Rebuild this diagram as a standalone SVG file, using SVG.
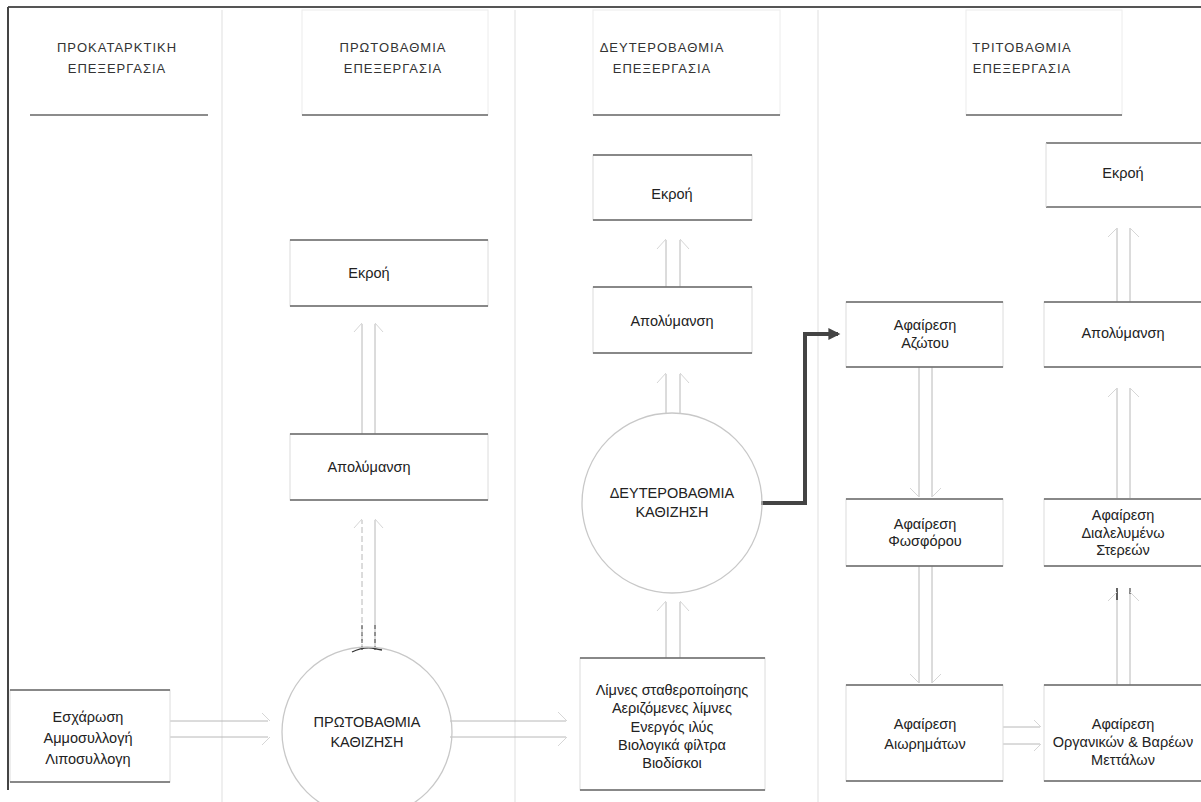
<svg xmlns="http://www.w3.org/2000/svg" width="1201" height="802" viewBox="0 0 1201 802">
<defs>
<marker id="solid" viewBox="0 0 10 10" refX="8" refY="5" markerWidth="14" markerHeight="12" orient="auto" markerUnits="userSpaceOnUse">
<path d="M0,0 L10,5 L0,10 Z" fill="#444"/>
</marker>
<style>
text{font-family:"Liberation Sans",Arial,sans-serif;fill:#222;text-anchor:middle}
.hd{font-size:13px;letter-spacing:1px;fill:#333}
.lb{font-size:14.5px}
.side{fill:none;stroke:#dcdcdc;stroke-width:1}
.hside{fill:none;stroke:#ececec;stroke-width:1}
.tb{stroke:#666;stroke-width:1.5}
.div{stroke:#e4e4e4;stroke-width:1.2}
.dl{stroke:#b8b8b8;stroke-width:1;fill:none}
.ch{stroke:#d6d6d6;stroke-width:1;fill:none}
.circ{fill:none;stroke:#c8c8c8;stroke-width:1.3}
.thick{stroke:#444;stroke-width:4;fill:none}
</style>
</defs>
<rect width="1201" height="802" fill="#fff"/>
<g id="frame">
<line x1="8" y1="7" x2="1201" y2="7" stroke="#555" stroke-width="2"/>
<line x1="8" y1="7" x2="8" y2="790" stroke="#444" stroke-width="2"/>
<line class="div" x1="222" y1="10" x2="222" y2="802"/>
<line class="div" x1="515" y1="10" x2="515" y2="802"/>
<line class="div" x1="818" y1="10" x2="818" y2="802"/>
</g>
<g id="header1">
<line class="tb" x1="30" y1="115" x2="208" y2="115"/>
<text class="hd" x="117" y="52">ΠΡΟΚΑΤΑΡΚΤΙΚΗ</text>
<text class="hd" x="117" y="73">ΕΠΕΞΕΡΓΑΣΙΑ</text>
</g>
<g id="header2">
<rect class="hside" x="302" y="10" width="186" height="105"/>
<line class="tb" x1="302" y1="115" x2="488" y2="115"/>
<text class="hd" x="393" y="52">ΠΡΩΤΟΒΑΘΜΙΑ</text>
<text class="hd" x="393" y="73">ΕΠΕΞΕΡΓΑΣΙΑ</text>
</g>
<g id="header3">
<rect class="hside" x="593" y="10" width="187" height="105"/>
<line class="tb" x1="593" y1="115" x2="780" y2="115"/>
<text class="hd" x="662" y="52">ΔΕΥΤΕΡΟΒΑΘΜΙΑ</text>
<text class="hd" x="662" y="73">ΕΠΕΞΕΡΓΑΣΙΑ</text>
</g>
<g id="header4">
<rect class="hside" x="966" y="10" width="156" height="105"/>
<line class="tb" x1="966" y1="115" x2="1122" y2="115"/>
<text class="hd" x="1022" y="52">ΤΡΙΤΟΒΑΘΜΙΑ</text>
<text class="hd" x="1022" y="73">ΕΠΕΞΕΡΓΑΣΙΑ</text>
</g>
<g id="connectors">
<line class="dl" x1="170" y1="721" x2="268" y2="721"/>
<line class="dl" x1="170" y1="737" x2="268" y2="737"/>
<path class="ch" d="M262,713 L270,721 M262,745 L270,737"/>
<line class="dl" x1="450" y1="721" x2="566" y2="721"/>
<line class="dl" x1="450" y1="737" x2="566" y2="737"/>
<path class="ch" d="M558,712 L567,721 M558,746 L567,737"/>
<line class="dl" x1="362" y1="650" x2="362" y2="520" stroke-dasharray="6,3"/>
<line class="dl" x1="375" y1="650" x2="375" y2="520"/>
<path class="ch" d="M354,528 L362,519 M383,528 L375,519"/>
<path d="M352,652 Q362,647 372,648 L382,650" fill="none" stroke="#333" stroke-width="1.3"/>
<line x1="362" y1="625" x2="362" y2="650" stroke="#444" stroke-width="1" stroke-dasharray="4,3"/>
<line x1="375" y1="625" x2="375" y2="650" stroke="#444" stroke-width="1" stroke-dasharray="4,3"/>
<line class="dl" x1="362" y1="434" x2="362" y2="324"/>
<line class="dl" x1="375" y1="434" x2="375" y2="324"/>
<path class="ch" d="M354,332 L362,323 M383,332 L375,323"/>
<line class="dl" x1="666" y1="658" x2="666" y2="602"/>
<line class="dl" x1="680" y1="658" x2="680" y2="602"/>
<path class="ch" d="M657,611 L666,601 M689,611 L680,601"/>
<line class="dl" x1="666" y1="413" x2="666" y2="374"/>
<line class="dl" x1="680" y1="413" x2="680" y2="374"/>
<path class="ch" d="M657,383 L666,373 M689,383 L680,373"/>
<line class="dl" x1="666" y1="287" x2="666" y2="240"/>
<line class="dl" x1="680" y1="287" x2="680" y2="240"/>
<path class="ch" d="M657,249 L666,239 M689,249 L680,239"/>
<path class="thick" d="M761,503 L805,503 L805,334 L838,334" marker-end="url(#solid)"/>
<line class="dl" x1="919" y1="367" x2="919" y2="497"/>
<line class="dl" x1="932" y1="367" x2="932" y2="497"/>
<path class="ch" d="M910,488 L919,497 M941,488 L932,497"/>
<line class="dl" x1="919" y1="566" x2="919" y2="683"/>
<line class="dl" x1="932" y1="566" x2="932" y2="683"/>
<path class="ch" d="M910,674 L919,683 M941,674 L932,683"/>
<line class="dl" x1="1117" y1="685" x2="1117" y2="592"/>
<line class="dl" x1="1130" y1="685" x2="1130" y2="592"/>
<line x1="1117" y1="588" x2="1117" y2="600" stroke="#333" stroke-width="1.5"/>
<line x1="1130" y1="588" x2="1130" y2="594" stroke="#555" stroke-width="1.3"/>
<path class="ch" d="M1108,601 L1117,592 M1139,601 L1130,592"/>
<line class="dl" x1="1117" y1="498" x2="1117" y2="388"/>
<line class="dl" x1="1130" y1="498" x2="1130" y2="388"/>
<path class="ch" d="M1108,397 L1117,388 M1139,397 L1130,388"/>
<line class="dl" x1="1117" y1="302" x2="1117" y2="228"/>
<line class="dl" x1="1130" y1="302" x2="1130" y2="228"/>
<path class="ch" d="M1108,237 L1117,228 M1139,237 L1130,228"/>
<line class="dl" x1="1003" y1="727" x2="1040" y2="727"/>
<line class="dl" x1="1003" y1="744" x2="1040" y2="744"/>
<path class="ch" d="M1034,720 L1041,727 M1034,751 L1041,744"/>
</g>
<g id="n_eschar">
<rect class="side" x="10" y="690" width="160" height="92"/>
<line class="tb" x1="10" y1="690" x2="170" y2="690"/>
<line class="tb" x1="10" y1="782" x2="170" y2="782"/>
<text class="lb" x="88" y="722">Εσχάρωση</text>
<text class="lb" x="88" y="743">Αμμοσυλλογή</text>
<text class="lb" x="88" y="764">Λιποσυλλογη</text>
</g>
<g id="n_circle1">
<circle class="circ" cx="367" cy="732" r="85"/>
<text class="lb" x="367" y="727">ΠΡΩΤΟΒΑΘΜΙΑ</text>
<text class="lb" x="367" y="747">ΚΑΘΙΖΗΣΗ</text>
</g>
<g id="n_apol2">
<rect class="side" x="290" y="434" width="198" height="66"/>
<line class="tb" x1="290" y1="434" x2="488" y2="434"/>
<line class="tb" x1="290" y1="500" x2="488" y2="500"/>
<text class="lb" x="369" y="472">Απολύμανση</text>
</g>
<g id="n_ekroi2">
<rect class="side" x="290" y="240" width="198" height="66"/>
<line class="tb" x1="290" y1="240" x2="488" y2="240"/>
<line class="tb" x1="290" y1="306" x2="488" y2="306"/>
<text class="lb" x="369" y="278">Εκροή</text>
</g>
<g id="n_ekroi3">
<rect class="side" x="593" y="155" width="159" height="65"/>
<line class="tb" x1="593" y1="155" x2="752" y2="155"/>
<line class="tb" x1="593" y1="220" x2="752" y2="220"/>
<text class="lb" x="672" y="199">Εκροή</text>
</g>
<g id="n_apol3">
<rect class="side" x="593" y="287" width="159" height="66"/>
<line class="tb" x1="593" y1="287" x2="752" y2="287"/>
<line class="tb" x1="593" y1="353" x2="752" y2="353"/>
<text class="lb" x="672" y="326">Απολύμανση</text>
</g>
<g id="n_circle2">
<circle class="circ" cx="672" cy="503" r="90"/>
<text class="lb" x="672" y="498">ΔΕΥΤΕΡΟΒΑΘΜΙΑ</text>
<text class="lb" x="672" y="517">ΚΑΘΙΖΗΣΗ</text>
</g>
<g id="n_lagoons">
<rect class="side" x="580" y="658" width="185" height="132"/>
<line class="tb" x1="580" y1="658" x2="765" y2="658"/>
<line class="tb" x1="580" y1="790" x2="765" y2="790"/>
<text class="lb" x="672" y="695">Λίμνες σταθεροποίησης</text>
<text class="lb" x="672" y="713">Αεριζόμενες λίμνες</text>
<text class="lb" x="672" y="732">Ενεργός ιλύς</text>
<text class="lb" x="672" y="750">Βιολογικά φίλτρα</text>
<text class="lb" x="672" y="768">Βιοδίσκοι</text>
</g>
<g id="n_azotou">
<rect class="side" x="846" y="302" width="157" height="65"/>
<line class="tb" x1="846" y1="302" x2="1003" y2="302"/>
<line class="tb" x1="846" y1="367" x2="1003" y2="367"/>
<text class="lb" x="925" y="330">Αφαίρεση</text>
<text class="lb" x="925" y="348">Αζώτου</text>
</g>
<g id="n_fosforou">
<rect class="side" x="846" y="499" width="157" height="67"/>
<line class="tb" x1="846" y1="499" x2="1003" y2="499"/>
<line class="tb" x1="846" y1="566" x2="1003" y2="566"/>
<text class="lb" x="925" y="529">Αφαίρεση</text>
<text class="lb" x="925" y="546">Φωσφόρου</text>
</g>
<g id="n_aiorim">
<rect class="side" x="846" y="685" width="157" height="96"/>
<line class="tb" x1="846" y1="685" x2="1003" y2="685"/>
<line class="tb" x1="846" y1="781" x2="1003" y2="781"/>
<text class="lb" x="925" y="729">Αφαίρεση</text>
<text class="lb" x="925" y="749">Αιωρημάτων</text>
</g>
<g id="n_ekroi4">
<line class="tb" x1="1046" y1="143" x2="1201" y2="143"/>
<line class="tb" x1="1046" y1="207" x2="1201" y2="207"/>
<line class="side" x1="1046" y1="143" x2="1046" y2="207"/>
<text class="lb" x="1123" y="178">Εκροή</text>
</g>
<g id="n_apol4">
<rect class="side" x="1044" y="302" width="160" height="65"/>
<line class="tb" x1="1044" y1="302" x2="1201" y2="302"/>
<line class="tb" x1="1044" y1="367" x2="1201" y2="367"/>
<text class="lb" x="1123" y="338">Απολύμανση</text>
</g>
<g id="n_dialel">
<rect class="side" x="1044" y="499" width="160" height="67"/>
<line class="tb" x1="1044" y1="499" x2="1201" y2="499"/>
<line class="tb" x1="1044" y1="566" x2="1201" y2="566"/>
<text class="lb" x="1123" y="520">Αφαίρεση</text>
<text class="lb" x="1123" y="538">Διαλελυμένω</text>
<text class="lb" x="1123" y="555">Στερεών</text>
</g>
<g id="n_organikon">
<rect class="side" x="1044" y="685" width="160" height="96"/>
<line class="tb" x1="1044" y1="685" x2="1201" y2="685"/>
<line class="tb" x1="1044" y1="781" x2="1201" y2="781"/>
<text class="lb" x="1123" y="729">Αφαίρεση</text>
<text class="lb" x="1123" y="747">Οργανικών &amp; Βαρέων</text>
<text class="lb" x="1123" y="765">Μεττάλων</text>
</g>
</svg>
